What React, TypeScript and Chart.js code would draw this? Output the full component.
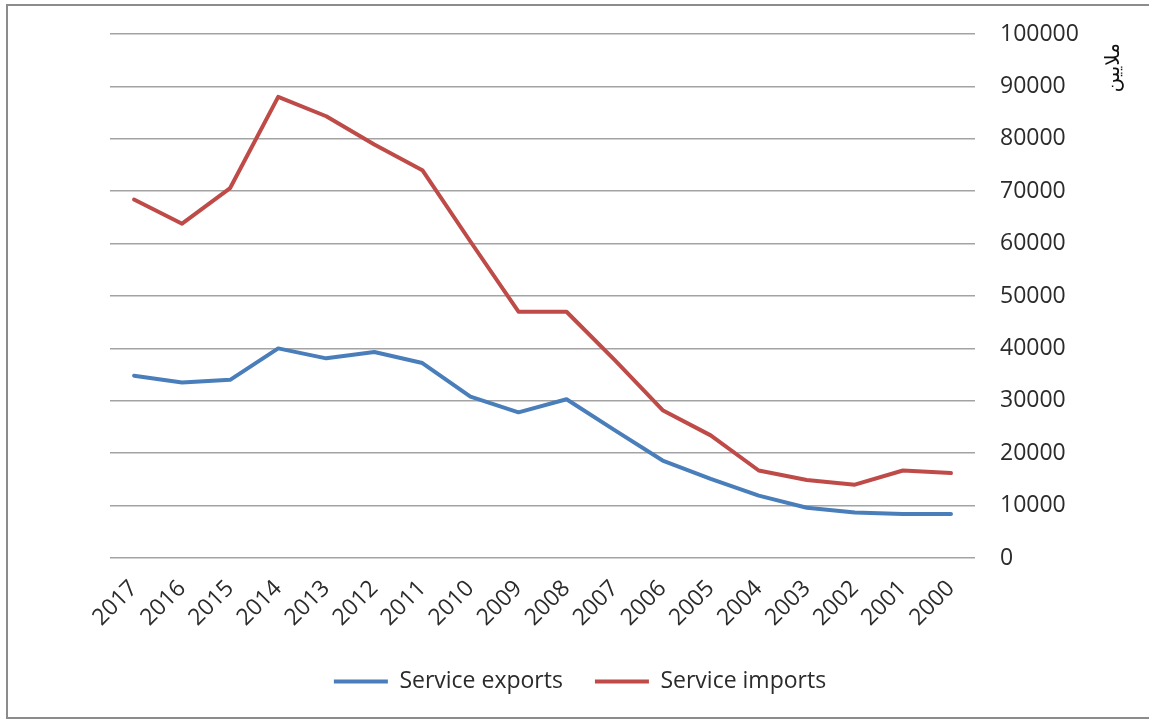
import React, { useEffect, useRef } from "react";
import { Chart, registerables } from "chart.js";

Chart.register(...registerables);

// Years run from newest to oldest, left to right
const YEARS = [
  "2017", "2016", "2015", "2014", "2013", "2012", "2011", "2010", "2009",
  "2008", "2007", "2006", "2005", "2004", "2003", "2002", "2001", "2000",
];

const SERVICE_EXPORTS = [
  34800, 33500, 34000, 40000, 38100, 39300, 37200, 30800, 27800,
  30300, 24400, 18600, 15100, 11900, 9600, 8700, 8400, 8400,
];

const SERVICE_IMPORTS = [
  68400, 63800, 70600, 88000, 84300, 78900, 74000, 60400, 47000,
  47000, 37800, 28200, 23400, 16700, 14900, 14000, 16700, 16200,
];

const SERIES_NAMES = ["Service exports", "Service imports"];
const UNIT_TITLE = "ملايين";

const Y_MIN = 0;
const Y_MAX = 100000;
const Y_STEP = 10000;

const FONT = '"Open Sans", "Noto Sans", sans-serif';
const TEXT_COLOR = "#2b2b2b";

// Unit caption on the right, rotated to read bottom-to-top
const unitTitlePlugin = {
  id: "unitTitle",
  afterDraw(chart: any) {
    const { ctx, chartArea } = chart;
    ctx.save();
    ctx.translate(chartArea.right + 139, chartArea.top + 9);
    ctx.rotate(-Math.PI / 2);
    ctx.font = '20px "DejaVu Sans", sans-serif';
    ctx.fillStyle = "#111";
    ctx.textAlign = "right";
    ctx.textBaseline = "middle";
    ctx.fillText(UNIT_TITLE, 0, 0);
    ctx.restore();
  },
};

export default function App() {
  const canvasRef = useRef<HTMLCanvasElement | null>(null);

  useEffect(() => {
    const canvas = canvasRef.current;
    if (!canvas) return;
    const chart = new Chart(canvas, {
      type: "line",
      data: {
        labels: YEARS,
        datasets: [
          {
            label: SERIES_NAMES[0],
            data: SERVICE_EXPORTS,
            borderColor: "#4A7EBB",
            backgroundColor: "#4A7EBB",
            borderWidth: 4,
            pointRadius: 0,
            tension: 0,
            borderJoinStyle: "round",
            borderCapStyle: "round",
            yAxisID: "y",
          },
          {
            label: SERIES_NAMES[1],
            data: SERVICE_IMPORTS,
            borderColor: "#BE4B48",
            backgroundColor: "#BE4B48",
            borderWidth: 4,
            pointRadius: 0,
            tension: 0,
            borderJoinStyle: "round",
            borderCapStyle: "round",
            yAxisID: "y",
          },
        ],
      },
      options: {
        responsive: false,
        animation: false,
        layout: { padding: { top: 34, bottom: 17, left: 21, right: 10 } },
        plugins: {
          tooltip: { enabled: false },
          legend: {
            position: "bottom",
            labels: {
              usePointStyle: true,
              pointStyle: "line",
              pointStyleWidth: 54,
              color: TEXT_COLOR,
              padding: 32,
              font: { family: FONT, size: 23 },
            },
          },
        },
        scales: {
          x: {
            offset: true,
            grid: { display: false },
            border: { display: false },
            ticks: {
              color: TEXT_COLOR,
              font: { family: FONT, size: 23 },
              minRotation: 45,
              maxRotation: 45,
              autoSkip: false,
              padding: 9,
            },
            afterFit(scale: any) {
              scale.height = 80;
            },
          },
          yPad: {
            position: "left",
            display: true,
            grid: { display: false },
            border: { display: false },
            ticks: { display: false },
            afterFit(scale: any) {
              scale.width = 89;
            },
          },
          y: {
            position: "right",
            min: Y_MIN,
            max: Y_MAX,
            grid: { color: "#a3a3a3", lineWidth: 1.6, drawTicks: false },
            border: { display: false },
            ticks: {
              stepSize: Y_STEP,
              color: TEXT_COLOR,
              font: { family: FONT, size: 23 },
              padding: 25,
              callback: (v: any) => String(v),
            },
            afterFit(scale: any) {
              scale.width = 164;
              scale.paddingTop = 0;
              scale.paddingBottom = 0;
            },
          },
        },
      },
      plugins: [unitTitlePlugin],
    } as any);
    return () => chart.destroy();
  }, []);

  return (
    <div
      style={{
        position: "absolute",
        left: 0,
        top: 0,
        width: 1149,
        height: 720,
        overflow: "hidden",
        background: "#fff",
      }}
    >
      <canvas
        ref={canvasRef}
        width={1149}
        height={720}
        style={{ position: "absolute", left: 0, top: 0, width: 1149, height: 720 }}
      />
      <div
        style={{
          position: "absolute",
          left: 6,
          top: 4,
          width: 1170,
          height: 711,
          border: "2px solid #8c8c8c",
          pointerEvents: "none",
        }}
      />
    </div>
  );
}
